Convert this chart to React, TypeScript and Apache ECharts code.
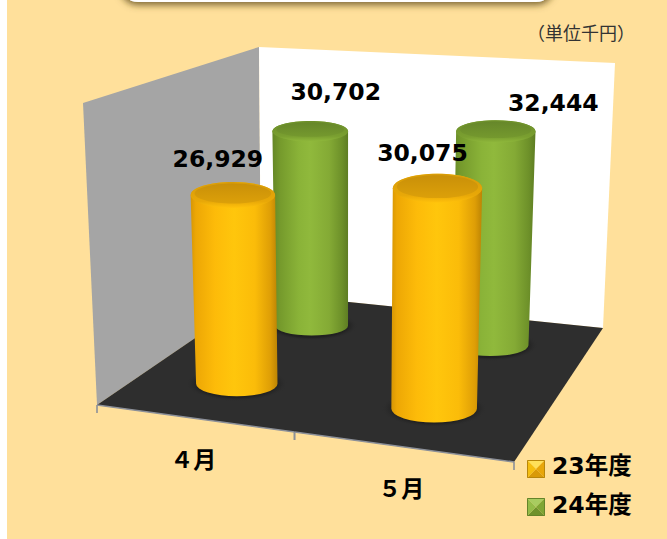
import React, { useEffect, useRef } from "react";
import * as echarts from "echarts";

const categories = ["４月", "５月"];
const seriesNames = ["23年度", "24年度"];
const values23 = [26929, 30075];
const values24 = [30702, 32444];
const unitText = "（単位千円）";

// hand-placed data label offsets from the cylinder's top centre
const labelOffsets = [
  [[-15, -36], [-15, -35]],
  [[25.5, -39], [57.5, -28]],
];

const W = 667;
const H = 539;
const FLOOR = { fl: [97, 405], fr: [514, 462], br: [603, 328], bl: [261, 293] };
const WALL_TOP = { fl: [83, 103], bl: [259, 47], br: [615, 63] };
const VANISH = [351, 5890];
const DEPTHS = [0.25, 0.75];
const ROW_SHIFT = [0, 1.5];
const GRID = { left: 100, top: 100, width: 400, height: 307 };
const FONT = '"DejaVu Sans","Noto Sans CJK JP",sans-serif';
const BG = "#FFE09B";

// square-to-quad homography of the floor
function makeProjector() {
  const [x0, y0] = FLOOR.fl, [x1, y1] = FLOOR.fr, [x2, y2] = FLOOR.br, [x3, y3] = FLOOR.bl;
  const dx1 = x1 - x2, dx2 = x3 - x2, sx = x0 - x1 + x2 - x3;
  const dy1 = y1 - y2, dy2 = y3 - y2, sy = y0 - y1 + y2 - y3;
  const den = dx1 * dy2 - dx2 * dy1;
  const g = (sx * dy2 - dx2 * sy) / den;
  const h = (dx1 * sy - sx * dy1) / den;
  const a = x1 - x0 + g * x1, b = x3 - x0 + h * x3;
  const d = y1 - y0 + g * y1, e = y3 - y0 + h * y3;
  return (u: number, v: number) => {
    const w = g * u + h * v + 1;
    return { x: (a * u + b * v + x0) / w, y: (d * u + e * v + y0) / w, w };
  };
}
const project = makeProjector();

const stops = (list: [number, string][]) => list.map(([offset, color]) => ({ offset, color }));
const horiz = (list: [number, string][]) => ({ type: "linear", x: 0, y: 0, x2: 1, y2: 0, colorStops: stops(list) });
const vert = (list: [number, string][]) => ({ type: "linear", x: 0, y: 0, x2: 0, y2: 1, colorStops: stops(list) });

const PALETTES = [
  {
    legend: "#FFC000",
    body: horiz([[0, "#D69605"], [0.06, "#EDA705"], [0.28, "#FDBB09"], [0.5, "#FFC60C"], [0.74, "#FBBC09"], [0.92, "#DE9E06"], [1, "#BC8404"]]),
    rim: vert([[0, "#D89C08"], [0.75, "#E8A808"], [1, "#FFC10B"]]),
    cap: vert([[0, "#C99009"], [1, "#DCA009"]]),
  },
  {
    legend: "#8DB63A",
    body: horiz([[0, "#658726"], [0.1, "#759A2C"], [0.35, "#8AB338"], [0.5, "#90B93C"], [0.75, "#84AA35"], [0.92, "#6D9029"], [1, "#5E7D23"]]),
    rim: vert([[0, "#6C8E2A"], [0.75, "#7A9F30"], [1, "#8FB83B"]]),
    cap: vert([[0, "#66872A"], [1, "#75992E"]]),
  },
];

const ellipseRatio = (y: number) => 0.27 + (y - 327) * 0.00065;

function renderCylinder(params: any, api: any) {
  const si = params.seriesIndex;
  const cat = api.value(0);
  const val = api.value(1);
  const topPt = api.coord([cat, val]);
  const basePt = api.coord([cat, 0]);
  const u = (basePt[0] - GRID.left) / GRID.width;
  const v = DEPTHS[si];
  const base = project(u, v);
  const bx = base.x + ROW_SHIFT[si];
  const h = (basePt[1] - topPt[1]) / Math.pow(base.w, 0.9);
  const len = Math.hypot(VANISH[0] - bx, VANISH[1] - base.y);
  const tx = bx - ((VANISH[0] - bx) / len) * h;
  const ty = base.y - ((VANISH[1] - base.y) / len) * h;
  const rb = 42.2 / base.w;
  const rt = rb * (1 + h / 5000);
  const k = ellipseRatio(base.y);
  const ryb = rb * k;
  const ryt = rt * k;
  const pal = PALETTES[si];
  const off = labelOffsets[si][cat];
  const path =
    `M${tx - rt} ${ty} L${bx - rb} ${base.y} ` +
    `A${rb} ${ryb} 0 0 0 ${bx + rb} ${base.y} L${tx + rt} ${ty} ` +
    `A${rt} ${ryt} 0 0 0 ${tx - rt} ${ty} Z`;
  const left = Math.min(tx - rt, bx - rb);
  const right = Math.max(tx + rt, bx + rb);
  const top = ty - ryt;
  const bottom = base.y + ryb;
  return {
    type: "group",
    children: [
      {
        type: "ellipse",
        shape: { cx: bx, cy: base.y, rx: rb + 10, ry: ryb + 5 },
        style: {
          fill: {
            type: "radial", x: 0.5, y: 0.5, r: 0.5,
            colorStops: stops([[0, "#1C1C1C"], [0.78, "#212121"], [1, "rgba(46,46,46,0)"]]),
          },
        },
      },
      {
        type: "path",
        shape: { pathData: path, layout: "cover", x: left, y: top, width: right - left, height: bottom - top },
        style: { fill: pal.body },
      },
      { type: "ellipse", shape: { cx: tx, cy: ty, rx: rt, ry: ryt }, style: { fill: pal.rim } },
      { type: "ellipse", shape: { cx: tx, cy: ty - 1.5, rx: rt - 4, ry: ryt - 3 }, style: { fill: pal.cap } },
      {
        type: "text",
        style: {
          x: tx + off[0], y: ty + off[1],
          text: val.toLocaleString("en-US"),
          fill: "#000", font: `bold 23.5px ${FONT}`, align: "center", verticalAlign: "middle",
        },
      },
    ],
  };
}

function renderFrontEdge(params: any, api: any) {
  const cat = api.value(0);
  const c = api.coord([cat, 0]);
  const u = (c[0] - GRID.left) / GRID.width;
  const left = project(u - 0.25, 0);
  const right = project(u + 0.25, 0);
  const mid = project(u, 0);
  const lineStyle = { stroke: "#8C9099", lineWidth: 1.6 };
  const children: any[] = [
    { type: "line", shape: { x1: left.x, y1: left.y, x2: right.x, y2: right.y }, style: lineStyle },
    { type: "line", shape: { x1: left.x, y1: left.y, x2: left.x, y2: left.y + 8 }, style: lineStyle },
    { type: "line", shape: { x1: right.x, y1: right.y, x2: right.x, y2: right.y + 8 }, style: lineStyle },
    {
      type: "text",
      style: {
        x: mid.x, y: mid.y + 40,
        text: categories[cat],
        fill: "#000", font: `bold 23px "Noto Sans CJK JP",${FONT}`, align: "center", verticalAlign: "middle",
      },
    },
  ];
  return { type: "group", children };
}

const poly = (points: number[][], fill: string, z = 0) => ({ type: "polygon", z, silent: true, shape: { points }, style: { fill } });

function bevel(x: number, y: number, s: number, c: string[]) {
  const tl = [x, y], tr = [x + s, y], br = [x + s, y + s], bl = [x, y + s];
  const m = [x + s / 2, y + s / 2];
  return [
    poly([tl, tr, m], c[0], 10),
    poly([tr, br, m], c[1], 10),
    poly([br, bl, m], c[2], 10),
    poly([bl, tl, m], c[3], 10),
    { type: "rect", z: 10, silent: true, shape: { x: x + 0.5, y: y + 0.5, width: s - 1, height: s - 1 }, style: { fill: "none", stroke: c[4], lineWidth: 1 } },
  ];
}

const option: any = {
  animation: false,
  backgroundColor: "#FFFFFF",
  grid: { ...GRID },
  xAxis: { type: "category", data: categories, show: false },
  yAxis: { type: "value", min: 0, max: 42400, show: false },
  legend: {
    show: true,
    // the bevelled swatches are drawn over the legend by the graphic component
    data: seriesNames.map((name) => ({ name, itemStyle: { color: "transparent" } })),
    orient: "vertical",
    left: 527,
    top: 454,
    padding: 0,
    itemWidth: 18,
    itemHeight: 18,
    itemGap: 16,
    icon: "rect",
    selectedMode: false,
    textStyle: { fontFamily: FONT, fontWeight: "bold", fontSize: 23.5, color: "#000", padding: [0, 0, 0, 2] },
  },
  graphic: [
    { type: "rect", silent: true, z: 0, shape: { x: 7, y: 0, width: W - 7, height: H }, style: { fill: BG } },
    {
      type: "rect", silent: true, z: 0,
      shape: { x: 120, y: -40, width: 434, height: 42, r: 18 },
      style: { fill: "#FFFFFF", shadowBlur: 7, shadowOffsetY: 3, shadowColor: "rgba(90,70,20,0.8)" },
    },
    poly([WALL_TOP.fl, WALL_TOP.bl, FLOOR.bl, FLOOR.fl], "#A5A5A5"),
    poly([WALL_TOP.bl, WALL_TOP.br, FLOOR.br, FLOOR.bl], "#FFFFFF"),
    poly([FLOOR.fl, FLOOR.fr, FLOOR.br, FLOOR.bl], "#2E2E2E"),
    {
      type: "text", silent: true, z: 1,
      style: { x: 581, y: 32, text: unitText, fill: "#333", font: `18px "Noto Sans CJK JP",${FONT}`, align: "center", verticalAlign: "middle" },
    },
    ...bevel(527, 460, 18, ["#FFE05A", "#E8A60A", "#D99A08", "#F5BE10", "#B8860A"]),
    ...bevel(527, 498, 18, ["#A8CC60", "#7FA534", "#6F922C", "#94BC48", "#64842A"]),
  ],
  series: [
    {
      name: "frame", type: "custom", coordinateSystem: "cartesian2d", z: 1, silent: true,
      data: categories.map((_, i) => [i, 0]), encode: { x: 0, y: 1 }, renderItem: renderFrontEdge,
    },
    {
      name: seriesNames[0], type: "custom", coordinateSystem: "cartesian2d", z: 3, silent: true,
      itemStyle: { color: PALETTES[0].legend },
      data: values23.map((v, i) => [i, v]), encode: { x: 0, y: 1 },
      renderItem: (p: any, a: any) => renderCylinder({ ...p, seriesIndex: 0 }, a),
    },
    {
      name: seriesNames[1], type: "custom", coordinateSystem: "cartesian2d", z: 2, silent: true,
      itemStyle: { color: PALETTES[1].legend },
      data: values24.map((v, i) => [i, v]), encode: { x: 0, y: 1 },
      renderItem: (p: any, a: any) => renderCylinder({ ...p, seriesIndex: 1 }, a),
    },
  ],
};

export default function App() {
  const ref = useRef<HTMLDivElement>(null);
  useEffect(() => {
    document.body.style.margin = "0";
    const chart = echarts.init(ref.current!, undefined, { renderer: "svg" });
    chart.setOption(option);
    return () => chart.dispose();
  }, []);
  return <div ref={ref} style={{ width: W, height: H }} />;
}
